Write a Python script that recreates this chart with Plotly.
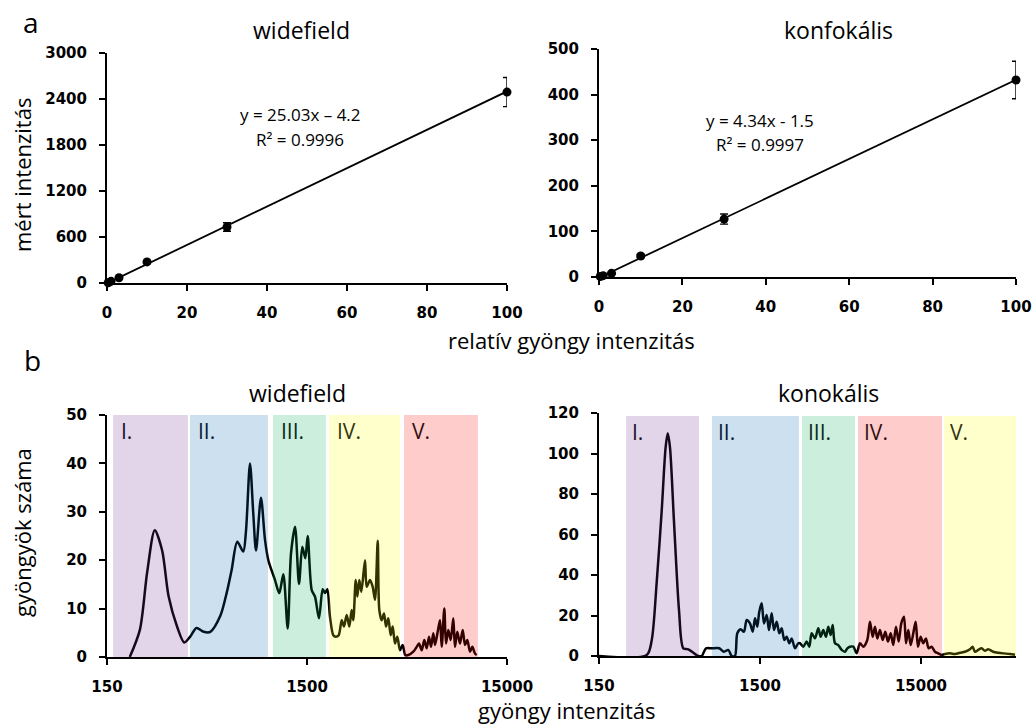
import plotly.graph_objects as go
import math

W, H = 1036, 726
FONT = "Open Sans"
TICKFONT = "DejaVu Sans"

# ---------------- panel a data ----------------
rel_intensity = [0.3, 1, 3, 10, 30, 100]
wf_measured = [3, 22, 68, 275, 730, 2490]
wf_err = [3, 5, 10, 20, 55, 190]
cf_measured = [1, 3, 8, 46, 127, 432]
cf_err = [1, 1, 2, 4, 11, 41]
wf_fit_slope, wf_fit_icpt = 25.03, -4.2
cf_fit_slope, cf_fit_icpt = 4.34, -1.5
wf_eq = ["y = 25.03x \u2013 4.2", "R\u00b2 = 0.9996"]
cf_eq = ["y = 4.34x - 1.5", "R\u00b2 = 0.9997"]

# ---------------- panel b data ----------------
wf_hist_x = [195, 219, 238, 260, 283, 305, 336, 365, 391, 420, 457, 493, 553, 597, 630, 672,
             720, 743, 778, 808, 834, 883, 925, 961, 1038, 1090, 1142, 1201, 1248, 1307, 1368,
             1421, 1471, 1512, 1584, 1644, 1722, 1797, 1845, 1895, 1955, 2031, 2090, 2160, 2237,
             2296, 2369, 2441, 2509, 2556, 2628, 2677, 2739, 2803, 2925, 2983, 3098, 3196, 3282,
             3386, 3449, 3545, 3640, 3725, 3825, 3932, 4023, 4131, 4242, 4375, 4514, 4651, 4815,
             5100, 5304, 5446, 5619, 5789, 5950, 6111, 6253, 6420, 6548, 6754, 6936, 7073, 7288,
             7432, 7631, 7845, 8082, 8242, 8463, 8731, 9007, 9249, 9498, 9797, 10059, 10377, 10582]
wf_hist_y = [0, 5.6, 17.4, 26.2, 22, 12.5, 6.3, 3.0, 4.2, 6.0, 5.2, 5.2, 8.5, 13.5, 18, 23.8,
             21.8, 26, 40, 29.7, 22, 32.9, 24.2, 20, 15.9, 13.2, 17.1, 5.9, 21.4, 26.9, 15.1,
             22.8, 20.4, 25, 13.8, 12.5, 8.0, 14, 13.2, 14, 8.3, 4.5, 4.2, 4.5, 7.6,
             6.3, 8.7, 6.3, 9.7, 7.6, 15.9, 12.5, 15.9, 13.5, 20, 14.5, 15.9, 14.5, 11.8,
             24, 9.7, 7.6, 9.0, 6.3, 8.0, 4.5, 6.3, 2.8, 4.2, 1.4, 2.5, 0.4, 0.4,
             1.1, 2.1, 2.8, 1.4, 3.5, 1.8, 4.2, 2.1, 4.9, 2.5, 5.2, 7.6, 2.1, 10,
             2.8, 5.6, 3.5, 8, 2.1, 5.2, 2.8, 5.6, 2.5, 3.5, 1.1, 2.1, 0.7, 0.4]

cf_hist_x = [150, 297, 319, 342, 368, 389, 401, 414, 438, 471, 501, 538, 578, 621, 652, 693,
             752, 838, 896, 953, 1001, 1049, 1084, 1138, 1193, 1240, 1300, 1352, 1397, 1443,
             1485, 1537, 1588, 1651, 1706, 1773, 1833, 1905, 1977, 2046, 2124, 2198, 2281, 2361,
             2475, 2595, 2658, 2787, 2925, 3036, 3142, 3294, 3453, 3573, 3709, 3855, 3984, 4123,
             4243, 4386, 4597, 4827, 5060, 5228, 5433, 5696, 5981, 6270, 6573, 6960, 7233, 7518,
             7770, 8031, 8346, 8674, 9003, 9356, 9726, 10095, 10491, 10905, 11318, 11763, 12105,
             12510, 12945, 13437, 13906, 14371, 14935, 15500, 16110, 16740, 17470, 18330, 19210,
             20170, 21150, 22710, 24400, 26210, 28140, 30220, 31410, 32460, 34030, 35730, 37460,
             39270, 42180, 45300, 48670, 53580, 57540]
cf_hist_y = [0, 0.5, 7.9, 35.9, 72, 103, 110, 103, 67, 22.7, 3.8, 3.3, 1.6, 0, 0, 3.8,
             3.8, 3.8, 2.1, 3, 0, 0, 11.2, 13.2, 12, 17.8, 16.1, 12, 18.6, 14.5,
             21.9, 26, 16.1, 20.2, 12.8, 21.1, 12.8, 16.9, 11.2, 13.7, 7.9, 9.5, 6.3, 8.7,
             3.8, 6.3, 6.3, 4.6, 7.1, 4.6, 11.2, 8.7, 13.7, 9.5, 12.8, 9.5, 14.5, 10.4,
             15.3, 6.3, 5.4, 3, 2.1, 3.8, 4.6, 4.6, 1.3, 6.3, 4.6, 7.9, 16.9, 9.5,
             14.5, 8.7, 12.8, 7.9, 12, 7.1, 11.2, 5.4, 14.5, 7.1, 16.1, 19.4, 6.3,
             12.8, 5.4, 11.2, 16.9, 4.6, 9.5, 6.3, 8.7, 3.8, 4.6, 2.1, 1.3,
             0.5, 1, 1.3, 1, 1.6, 2.1, 3.3, 4.6, 2.1, 3, 3.8, 2.6,
             3.3, 2.1, 1.6, 1.3, 1, 0.6]

region_labels = ["I.", "II.", "III.", "IV.", "V."]
wf_region_lo = [161, 390, 1014, 1932, 4580]
wf_region_hi = [381, 957, 1866, 4375, 10740]
cf_region_lo = [221, 755, 2735, 6095, 20850]
cf_region_hi = [627, 2620, 5840, 20270, 58400]

PURPLE = "rgb(110,45,150)"
BLUE = "rgb(0,100,180)"
GREEN = "rgb(0,170,85)"
YELLOW = "rgb(255,255,0)"
RED = "rgb(255,0,0)"
wf_region_colors = [PURPLE, BLUE, GREEN, YELLOW, RED]
cf_region_colors = [PURPLE, BLUE, GREEN, RED, YELLOW]
label_colors_wf = ["#1c1024", "#0a1e30", "#0a2a1a", "#333310", "#331010"]
label_colors_cf = ["#1c1024", "#0a1e30", "#0a2a1a", "#331010", "#333310"]


def px(x):
    return x / W


def py(y):
    return 1 - y / H


fig = go.Figure()

# ---- panel a traces ----
for (meas, err, slope, icpt, xa, ya) in [
    (wf_measured, wf_err, wf_fit_slope, wf_fit_icpt, "x", "y"),
    (cf_measured, cf_err, cf_fit_slope, cf_fit_icpt, "x2", "y2"),
]:
    xs = [0, rel_intensity[-1]]
    fig.add_trace(go.Scatter(x=xs, y=[slope * v + icpt for v in xs], mode="lines",
                             line=dict(color="black", width=1.8), xaxis=xa, yaxis=ya,
                             showlegend=False, hoverinfo="skip", cliponaxis=False))
    fig.add_trace(go.Scatter(x=rel_intensity, y=meas, mode="markers",
                             marker=dict(color="black", size=9),
                             error_y=dict(type="data", array=err, color="black",
                                          thickness=1.4, width=4),
                             xaxis=xa, yaxis=ya, showlegend=False, cliponaxis=False))

# ---- panel b traces ----
fig.add_trace(go.Scatter(x=wf_hist_x, y=wf_hist_y, mode="lines",
                         line=dict(color="black", width=2.5, shape="spline", smoothing=0.8),
                         xaxis="x3", yaxis="y3", showlegend=False))
fig.add_trace(go.Scatter(x=cf_hist_x, y=cf_hist_y, mode="lines",
                         line=dict(color="black", width=2.5, shape="spline", smoothing=0.8),
                         xaxis="x4", yaxis="y4", showlegend=False))

shapes = []
annotations = []
for lo, hi, col, lab, lc in zip(wf_region_lo, wf_region_hi, wf_region_colors, region_labels, label_colors_wf):
    shapes.append(dict(type="rect", xref="x3", yref="y3", x0=lo, x1=hi, y0=0, y1=50,
                       fillcolor=col, opacity=0.2, line=dict(width=0), layer="above"))
    annotations.append(dict(xref="x3", yref="y3", x=math.log10(lo), y=50, xanchor="left",
                            yanchor="top", xshift=6, yshift=0, text=lab, showarrow=False,
                            font=dict(family=FONT, size=21, color=lc)))
for lo, hi, col, lab, lc in zip(cf_region_lo, cf_region_hi, cf_region_colors, region_labels, label_colors_cf):
    shapes.append(dict(type="rect", xref="x4", yref="y4", x0=lo, x1=hi, y0=0, y1=118.5,
                       fillcolor=col, opacity=0.2, line=dict(width=0), layer="above"))
    annotations.append(dict(xref="x4", yref="y4", x=math.log10(lo), y=118.5, xanchor="left",
                            yanchor="top", xshift=4, yshift=0, text=lab, showarrow=False,
                            font=dict(family=FONT, size=21, color=lc)))


def txt(x, y, t, size, angle=0, xanchor="center"):
    annotations.append(dict(xref="paper", yref="paper", x=px(x), y=py(y), text=t,
                            showarrow=False, xanchor=xanchor, yanchor="middle",
                            textangle=angle, font=dict(family=FONT, size=size, color="black")))


txt(31, 22, "a", 28)
txt(32, 360, "b", 28)
txt(301, 30, "widefield", 23)
txt(838, 30, "konfokális", 23)
txt(297, 393, "widefield", 23)
txt(828, 393, "konokális", 23)
txt(22, 175, "mért intenzitás", 22, angle=-90)
txt(22, 533, "gyöngyök száma", 22, angle=-90)
txt(571, 340, "relatív gyöngy intenzitás", 22)
txt(567, 710, "gyöngy intenzitás", 22)
txt(300, 114, wf_eq[0], 17)
txt(300, 139, wf_eq[1], 17)
txt(760, 120, cf_eq[0], 17)
txt(760, 145, cf_eq[1], 17)

axis_style = dict(showline=True, linecolor="black", linewidth=2, ticks="outside",
                  tickcolor="black", tickwidth=2, ticklen=6, showgrid=False, zeroline=False,
                  ticklabelstandoff=9, automargin=False,
                  tickfont=dict(family=TICKFONT, size=15, color="black", weight="bold"))

fig.update_layout(
    width=W, height=H,
    margin=dict(l=0, r=0, t=0, b=0),
    paper_bgcolor="white", plot_bgcolor="white",
    showlegend=False,
    xaxis=dict(domain=[px(107), px(507)], anchor="y", range=[0, 100], tickvals=[0, 20, 40, 60, 80, 100], **axis_style),
    yaxis=dict(domain=[py(283), py(53)], anchor="x", range=[0, 3000], tickvals=[0, 600, 1200, 1800, 2400, 3000], **axis_style),
    xaxis2=dict(domain=[px(599), px(1016)], anchor="y2", range=[0, 100], tickvals=[0, 20, 40, 60, 80, 100], **axis_style),
    yaxis2=dict(domain=[py(277), py(49)], anchor="x2", range=[0, 500], tickvals=[0, 100, 200, 300, 400, 500], **axis_style),
    xaxis3=dict(domain=[px(107), px(507)], anchor="y3", type="log",
                range=[math.log10(150), math.log10(15000)],
                tickvals=[150, 1500, 15000], ticktext=["150", "1500", "15000"], **axis_style),
    yaxis3=dict(domain=[py(657), py(415)], anchor="x3", range=[0, 50], tickvals=[0, 10, 20, 30, 40, 50], **axis_style),
    xaxis4=dict(domain=[px(599), px(1016)], anchor="y4", type="log",
                range=[math.log10(150), math.log10(58400)],
                tickvals=[150, 1500, 15000], ticktext=["150", "1500", "15000"], **axis_style),
    yaxis4=dict(domain=[py(656), py(413)], anchor="x4", range=[0, 120], tickvals=[0, 20, 40, 60, 80, 100, 120], **axis_style),
    shapes=shapes,
    annotations=annotations,
)

fig.write_html("out.html")
